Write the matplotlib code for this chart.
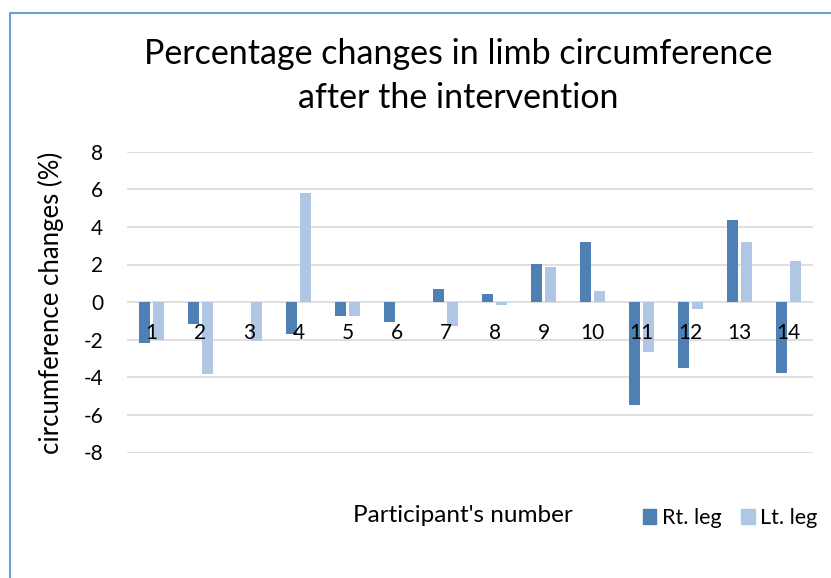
import matplotlib
matplotlib.use("Agg")
import matplotlib.pyplot as plt
from matplotlib.lines import Line2D
from matplotlib.patches import Patch
import numpy as np

plt.rcParams['font.family'] = ['Lato', 'DejaVu Sans']

participants = ['1', '2', '3', '4', '5', '6', '7', '8', '9', '10', '11', '12', '13', '14']
rt_leg = [-2.18, -1.17, 0.0, -1.72, -0.76, -1.08, 0.69, 0.41, 2.04, 3.20, -5.47, -3.50, 4.35, -3.79]
lt_leg = [-2.03, -3.84, -2.09, 5.82, -0.76, 0.0, -1.29, -0.14, 1.89, 0.58, -2.64, -0.35, 3.20, 2.16]
y_ticks = [-8, -6, -4, -2, 0, 2, 4, 6, 8]

W, H = 831, 578
fig = plt.figure(figsize=(W / 100, H / 100), dpi=100)
ax = fig.add_axes([127 / W, 1 - 452.5 / H, (813 - 127) / W, (452.5 - 151.7) / H])

x = np.arange(len(participants))
bw = 0.215
off = 0.148
ax.bar(x - off, rt_leg, width=bw, color='#4E80B4', label='Rt. leg', zorder=3)
ax.bar(x + off, lt_leg, width=bw, color='#AFC7E5', label='Lt. leg', zorder=3)

ax.set_xlim(-0.5, len(participants) - 0.5)
ax.set_ylim(-8, 8)
ax.set_yticks(y_ticks)
ax.set_yticklabels([str(v) for v in y_ticks])
ax.yaxis.grid(True, color='#D9D9D9', linewidth=1.2)
ax.yaxis.set_zorder(0.5)
ax.tick_params(axis='y', length=0, pad=17, labelsize=15)

ax.set_xticks(x)
ax.set_xticklabels(participants)
ax.spines['bottom'].set_position(('data', 0))
ax.tick_params(axis='x', length=0, pad=15, labelsize=15)
ax.xaxis.set_zorder(5)
for s in ax.spines.values():
    s.set_visible(False)

ax.set_ylabel('circumference changes (%)', fontsize=18.5)
ax.yaxis.set_label_coords(-(127 - 64) / (813 - 127), (452.5 - 303) / (452.5 - 151.7))

fig.text(463 / W, 1 - 515 / H, "Participant's number", fontsize=17.5, ha='center', va='center')
fig.text(458 / W, 1 - 76 / H, 'Percentage changes in limb circumference\nafter the intervention',
         fontsize=24.5, ha='center', va='center', linespacing=1.5)

handles = [Patch(color='#4E80B4', label='Rt. leg'), Patch(color='#AFC7E5', label='Lt. leg')]
fig.legend(handles=handles, loc='center', bbox_to_anchor=(730 / W, 1 - 518 / H), ncol=2,
           frameon=False, fontsize=15.5, handlelength=0.65, handleheight=0.65, handletextpad=0.25,
           columnspacing=0.9, borderpad=0)

fig.add_artist(Line2D([10 / W, 10 / W, 1.0], [0.0, 1 - 13 / H, 1 - 13 / H],
                      transform=fig.transFigure, color='#6A9FD8', linewidth=1.5))

fig.savefig('out.png', dpi=100)
